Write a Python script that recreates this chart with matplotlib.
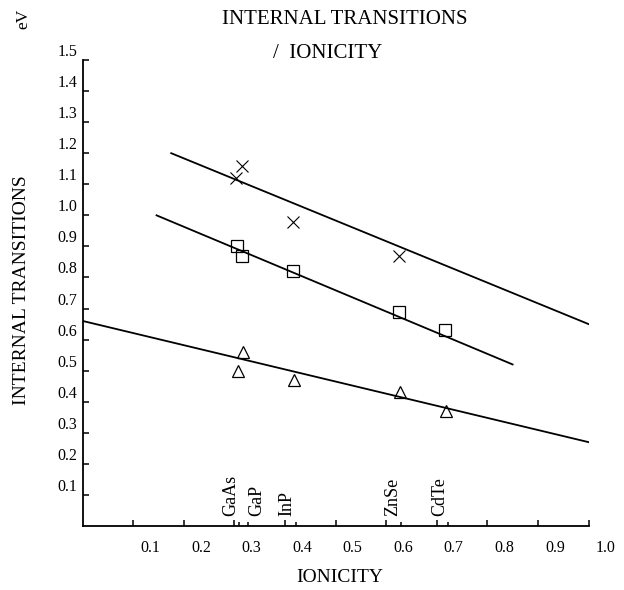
import matplotlib
matplotlib.use("Agg")
import matplotlib.pyplot as plt
import matplotlib.transforms as mtransforms

# valores (ionicidade x transicoes internas em eV)
cross_x = [0.303, 0.315, 0.415, 0.626]
cross_y = [1.12, 1.16, 0.98, 0.87]
square_x = [0.305, 0.315, 0.415, 0.626, 0.717]
square_y = [0.90, 0.87, 0.82, 0.69, 0.63]
tri_x = [0.317, 0.308, 0.418, 0.628, 0.719]
tri_y = [0.56, 0.50, 0.47, 0.43, 0.37]

# retas de ajuste
top_line_x = [0.175, 1.0]
top_line_y = [1.20, 0.65]
mid_line_x = [0.146, 0.85]
mid_line_y = [1.00, 0.52]
bot_line_x = [0.0, 1.0]
bot_line_y = [0.66, 0.27]

compounds = ["GaAs", "GaP", "InP", "ZnSe", "CdTe"]
compound_x = [0.310, 0.327, 0.421, 0.630, 0.722]

xticks = [0.1, 0.2, 0.3, 0.4, 0.5, 0.6, 0.7, 0.8, 0.9, 1.0]
yticks = [0.1, 0.2, 0.3, 0.4, 0.5, 0.6, 0.7, 0.8, 0.9, 1.0, 1.1, 1.2, 1.3, 1.4, 1.5]

plt.rcParams['font.family'] = ['Liberation Serif', 'DejaVu Serif']

fig = plt.figure(figsize=(6.24, 5.90), dpi=100)
ax = fig.add_axes([82.7 / 624, 64 / 590, 505.8 / 624, 466 / 590])
ax.set_xlim(0, 1.0)
ax.set_ylim(0, 1.5)
for s in ["top", "right"]:
    ax.spines[s].set_visible(False)
for s in ["left", "bottom"]:
    ax.spines[s].set_linewidth(1.3)

ax.plot(top_line_x, top_line_y, color="black", lw=1.3)
ax.plot(mid_line_x, mid_line_y, color="black", lw=1.3)
ax.plot(bot_line_x, bot_line_y, color="black", lw=1.3)

ax.plot(cross_x, cross_y, "x", ms=8, mec="black", mew=0.8, ls="none")
ax.plot(square_x, square_y, "s", ms=8.5, mfc="none", mec="black", mew=0.9, ls="none")
ax.plot(tri_x, tri_y, "^", ms=9, mfc="none", mec="black", mew=0.9, ls="none")

# ticks principais
ax.set_xticks(xticks)
ax.set_xticklabels(["%.1f" % v for v in xticks])
ax.set_yticks(yticks)
ax.set_yticklabels(["%.1f" % v for v in yticks])
ax.tick_params(direction="in", length=4, width=1.1, labelsize=11.5)
ax.tick_params(axis="x", pad=10)
ax.tick_params(axis="y", pad=4)

# rotulos do eixo x deslocados para a direita, como no original
offset = mtransforms.ScaledTranslation(0.17, 0, fig.dpi_scale_trans)
for lab in ax.get_xticklabels():
    lab.set_transform(lab.get_transform() + offset)
for lab in ax.get_yticklabels():
    lab.set_va("bottom")

# marcas dos compostos
ax.vlines(compound_x, 0, 0.013, color="black", lw=1.1)
for name, cx in zip(compounds, compound_x):
    ha = "left" if name == "GaP" else "right"
    ax.text(cx, 0.033, name, rotation=90, ha=ha, va="bottom", fontsize=13)

fig.text(345 / 624, 1 - 19 / 590, "INTERNAL TRANSITIONS", ha="center", va="center", fontsize=15)
fig.text(328 / 624, 1 - 54 / 590, "/  IONICITY", ha="center", va="center", fontsize=15)
fig.text(23 / 624, 1 - 19 / 590, "eV", rotation=90, ha="center", va="center", fontsize=12.5)
fig.text(22 / 624, 1 - 290 / 590, "INTERNAL TRANSITIONS", rotation=90, ha="center", va="center", fontsize=14)
fig.text(340 / 624, 1 - 578 / 590, "IONICITY", ha="center", va="center", fontsize=14)

fig.savefig("out.png", dpi=100)
